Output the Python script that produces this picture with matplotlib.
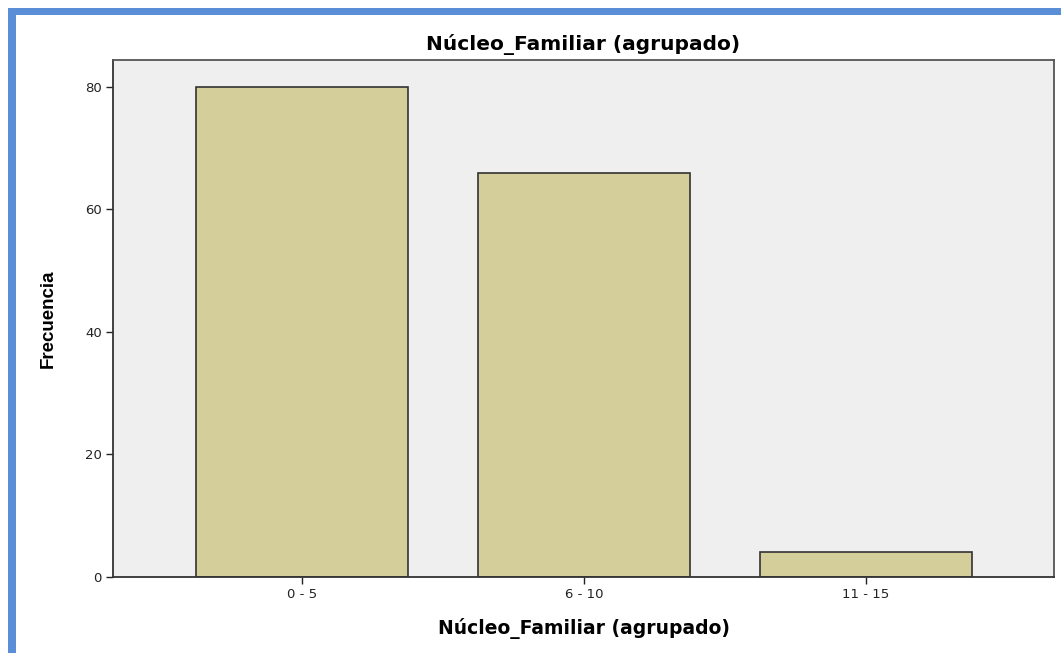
import matplotlib
matplotlib.use('Agg')
import matplotlib.pyplot as plt
from matplotlib.patches import Rectangle

# 数据
categorias = ['0 - 5', '6 - 10', '11 - 15']
frecuencias = [80, 66, 4]
y_ticks = [0, 20, 40, 60, 80]

plt.rcParams['font.family'] = ['DejaVu Sans']

fig = plt.figure(figsize=(10.61, 6.53), dpi=100)
fig.patch.set_facecolor('white')

# 蓝色边框
fig.patches.append(Rectangle((8 / 1061, 0), 8 / 1061, 1 - 8 / 653, transform=fig.transFigure,
                             facecolor='#5A8ED6', edgecolor='none'))
fig.patches.append(Rectangle((8 / 1061, 1 - 15 / 653), 1 - 8 / 1061, 7 / 653, transform=fig.transFigure,
                             facecolor='#5A8ED6', edgecolor='none'))

ax = fig.add_axes([113 / 1061, (653 - 577) / 653, (1054 - 113) / 1061, (577 - 60) / 653])
ax.set_facecolor('#EFEFEF')

x = range(len(categorias))
ax.bar(x, frecuencias, width=0.75, color='#D3CE9A', edgecolor='#333333', linewidth=1.2, zorder=2)

ax.set_xlim(-0.67, 2.667)
ax.set_ylim(0, 84.4)
ax.set_xticks(list(x))
ax.set_xticklabels(categorias)
ax.set_yticks(y_ticks)
ax.tick_params(direction='out', length=5, width=1, labelsize=9.5, colors='#222222', pad=3)

for s in ['left', 'bottom']:
    ax.spines[s].set_color('#333333')
    ax.spines[s].set_linewidth(1.3)
for s in ['top', 'right']:
    ax.spines[s].set_color('#555555')
    ax.spines[s].set_linewidth(1.3)

ax.set_title('Núcleo_Familiar (agrupado)', fontsize=14.5, fontweight='bold', pad=7)
ax.set_xlabel('Núcleo_Familiar (agrupado)', fontsize=13.5, fontweight='bold', labelpad=12)
ax.set_ylabel('Frecuencia', fontsize=13.5, fontweight='bold', labelpad=20,
              family=['Liberation Sans Narrow', 'Liberation Sans', 'DejaVu Sans'])

plt.savefig('out.png', dpi=100)
